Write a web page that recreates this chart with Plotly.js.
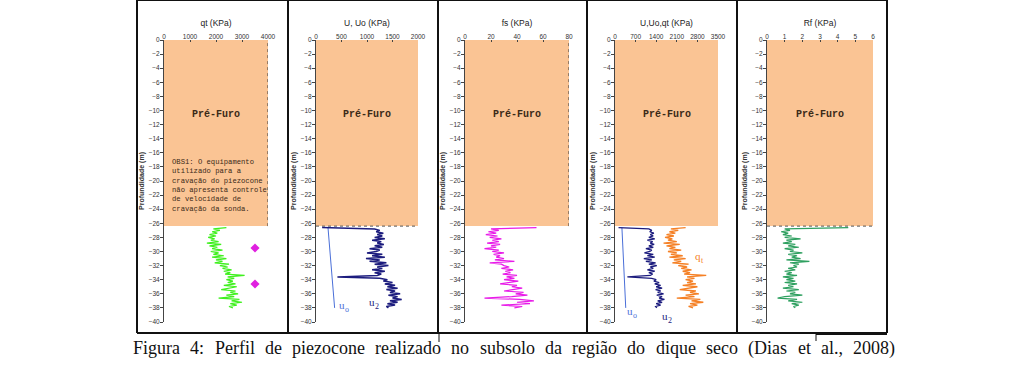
<!DOCTYPE html>
<html><head><meta charset="utf-8">
<script src="https://cdn.plot.ly/plotly-3.0.1.min.js"></script>
<style>html,body{margin:0;padding:0;background:#fff}#c{width:1024px;height:368px}</style>
</head><body><div id="c"></div>
<script>
// ---- data ----
const depth = [-26.6,-26.8,-27.0,-27.2,-27.4,-27.6,-27.8,-28.0,-28.2,-28.4,-28.6,-28.8,-29.0,-29.2,-29.4,-29.6,-29.8,-30.0,-30.2,-30.4,-30.6,-30.8,-31.0,-31.2,-31.4,-31.6,-31.8,-32.0,-32.2,-32.4,-32.6,-32.8,-33.0,-33.2,-33.4,-33.6,-33.8,-34.0,-34.2,-34.4,-34.6,-34.8,-35.0,-35.2,-35.4,-35.6,-35.8,-36.0,-36.2,-36.4,-36.6,-36.8,-37.0,-37.2,-37.4,-37.6,-37.8,-38.0];
const qt = [2400,1900,2150,1850,2050,1750,2000,1700,1950,1800,2100,1650,2200,1750,2050,1850,2250,1800,2100,1900,2300,1850,2400,2000,2250,1950,2500,2150,2450,2250,2600,2300,2550,2350,3100,2450,2700,2400,2650,2450,2750,2300,2800,2500,2200,2750,2550,2850,2400,2700,2100,2900,2600,3000,2550,2800,2500,2650];
const u2 = [120,1150,1250,1180,1320,1200,1300,1150,1350,1100,1280,1200,1330,1150,1300,1050,1250,1180,1000,1300,1100,1350,980,1250,1050,1380,1150,1420,1200,1300,1100,1350,1150,1280,1200,420,1250,1400,1320,1500,1350,1550,1400,1600,1380,1550,1450,1650,1420,1600,1500,1680,1450,1600,1400,1550,1380,1420];
const fs = [55,20,26,18,24,16,25,19,28,21,26,17,27,20,24,15,26,21,30,22,27,24,30,23,38,19,28,30,34,28,37,31,35,29,40,32,38,30,41,34,27,40,36,44,35,30,45,39,48,36,15,42,53,40,50,28,44,38];
const rf = [4.6,1.0,1.3,0.8,1.2,0.9,1.4,1.0,1.9,1.1,1.4,0.9,1.6,1.2,1.8,1.0,1.5,1.3,2.0,1.2,1.7,1.4,1.9,1.1,2.4,1.3,1.8,1.5,1.7,1.2,1.6,1.0,1.4,1.1,1.7,0.9,1.5,1.1,1.6,1.0,1.7,1.2,1.5,0.9,1.8,1.1,1.6,1.3,2.0,1.0,0.6,1.7,1.2,2.0,1.4,1.8,1.5,1.6];
const u0Depth = [-26.6,-38.0];
const u0 = [235,365];
const qtPtDepth = [-29.5,-34.6];
const qtPt = [3500,3500];
const preDepth = [0,-26.4];
const xTitles = ["qt (KPa)","U, Uo (KPa)","fs (KPa)","U,Uo,qt (KPa)","Rf (KPa)"];
const yTitle = "Profundidade (m)";
const xMax = [4000,2000,80,3500,6];
const xTicks = [[0,1000,2000,3000,4000],[0,500,1000,1500,2000],[0,20,40,60,80],[0,700,1400,2100,2800,3500],[0,1,2,3,4,5,6]];
const yTicks = [0,-2,-4,-6,-8,-10,-12,-14,-16,-18,-20,-22,-24,-26,-28,-30,-32,-34,-36,-38,-40];
const captionWords = ["Figura","4:","Perfil","de","piezocone","realizado","no","subsolo","da","região","do","dique","seco","(Dias","et","al.,","2008)"];

// ---- layout helpers (pixel -> paper) ----
const W=1024,H=368;
const px = v => v/W, py = v => 1 - v/H;
const plotL = [164,316,465,615,767], plotR = [268,418,569,718,873];
const yDom = [py(322), py(40)];
const sans = "Liberation Sans, Arial, sans-serif";
const serif='Liberation Serif, Times New Roman, serif';
const layout = {width:W,height:H,margin:{l:0,r:0,t:0,b:0},paper_bgcolor:'#fff',plot_bgcolor:'rgba(0,0,0,0)',showlegend:false,shapes:[],annotations:[]};
for (let i=0;i<5;i++){
  const s = i===0?'':String(i+1);
  layout['xaxis'+s] = {domain:[px(plotL[i]),px(plotR[i])],anchor:'y'+s,side:'top',range:[0,xMax[i]],tickvals:xTicks[i],
    ticks:'inside',ticklen:2,tickcolor:'#444',showgrid:false,zeroline:false,showline:false,ticklabelstandoff:-1,
    tickfont:{family:sans,size:6.5,color:'#333'},
    title:{text:xTitles[i],font:{family:sans,size:8.5,color:'#222'},standoff:4}};
  layout['yaxis'+s] = {domain:yDom,anchor:'x'+s,range:[-40,0],tickvals:yTicks,ticks:'outside',ticklen:3,tickcolor:'#444',
    showline:true,linecolor:'#444',linewidth:1,showgrid:false,zeroline:false,ticklabelstandoff:-1,
    tickfont:{family:sans,size:6.5,color:'#333'},
    title:{text:'<b>'+yTitle+'</b>',font:{family:sans,size:7,color:'#333'},standoff:3}};
  layout.shapes.push({type:'rect',xref:'x'+s,yref:'y'+s,x0:0,x1:xMax[i],y0:preDepth[1],y1:preDepth[0],fillcolor:'#FAC494',line:{width:0},layer:'below'});
  layout.annotations.push({xref:'x'+s,yref:'y'+s,x:xMax[i]/2,y:-10.5,text:'<b>Pré-Furo</b>',showarrow:false,
    font:{family:'Liberation Mono, Courier New, monospace',size:10,color:'#3a2a18'}});
}
// dotted edges of the pre-drill block
layout.shapes.push({type:'line',xref:'x',yref:'y',x0:4000,x1:4000,y0:-26.4,y1:0,line:{color:'#333',width:1,dash:'dot'}});
layout.shapes.push({type:'line',xref:'x3',yref:'y3',x0:80,x1:80,y0:-26.4,y1:0,line:{color:'#333',width:1,dash:'dot'}});
layout.shapes.push({type:'line',xref:'x2',yref:'y2',x0:0,x1:2000,y0:-26.4,y1:-26.4,line:{color:'#555',width:1,dash:'dot'}});
layout.shapes.push({type:'line',xref:'x5',yref:'y5',x0:0,x1:6,y0:-26.4,y1:-26.4,line:{color:'#555',width:1,dash:'dot'}});
// panel frames
[137,288,438,587,737,887].forEach(x=>layout.shapes.push({type:'line',xref:'paper',yref:'paper',x0:px(x),x1:px(x),y0:py(0),y1:py(333),line:{color:'#111',width:2}}));
layout.shapes.push({type:'line',xref:'paper',yref:'paper',x0:px(137),x1:px(887),y0:py(333),y1:py(333),line:{color:'#111',width:2}});
layout.shapes.push({type:'line',xref:'paper',yref:'paper',x0:px(137),x1:px(887),y0:py(0.5),y1:py(0.5),line:{color:'#111',width:1}});
layout.shapes.push({type:'line',xref:'paper',yref:'paper',x0:px(439),x1:px(439),y0:py(333),y1:py(342),line:{color:'#111',width:1}});
layout.shapes.push({type:'line',xref:'paper',yref:'paper',x0:px(816),x1:px(816),y0:py(333),y1:py(341),line:{color:'#111',width:1}});
layout.shapes.push({type:'line',xref:'paper',yref:'paper',x0:px(816),x1:px(887),y0:py(333.5),y1:py(333.5),line:{color:'#111',width:3}});
// OBS note
layout.annotations.push({xref:'paper',yref:'paper',x:px(170),y:py(156),xanchor:'left',yanchor:'top',align:'left',showarrow:false,
  text:'OBS1: O equipamento<br>utilizado para a<br>cravação do piezocone<br>não apresenta controle<br>de velocidade de<br>cravação da sonda.',
  font:{family:'Liberation Mono, Courier New, monospace',size:7.2,color:'#3a2a18'}});
// curve labels: main letter + subscript as two texts
[[337,305,'u','o','#4a6fd8'],[367,302,'u','2','#1c1c7e'],[625,311,'u','o','#4a6fd8'],[660,316,'u','2','#1c1c7e'],[693,256,'q','t','#f58025']]
 .forEach(a=>{
   layout.annotations.push({xref:'paper',yref:'paper',x:px(a[0]),y:py(a[1]),xanchor:'left',yanchor:'middle',text:a[2],showarrow:false,font:{family:serif,size:11,color:a[4]}});
   layout.annotations.push({xref:'paper',yref:'paper',x:px(a[0]+6),y:py(a[1]+4),xanchor:'left',yanchor:'middle',text:a[3],showarrow:false,font:{family:serif,size:8,color:a[4]}});
 });
// caption words, justified between left and right edges
const capSize=18, capL=131, capR=893;
const ctx=document.createElement('canvas').getContext('2d');
ctx.font=capSize+'px "Liberation Serif"';
const widths=captionWords.map(w=>ctx.measureText(w).width);
const gap=(capR-capL-widths.reduce((a,b)=>a+b,0))/(captionWords.length-1);
let cx=capL;
captionWords.forEach((w,i)=>{layout.annotations.push({xref:'paper',yref:'paper',x:px(cx),y:py(348),xanchor:'left',yanchor:'middle',
  text:w,showarrow:false,font:{family:serif,size:capSize,color:'#111'}}); cx+=widths[i]+gap;});

const line=(x,y,xa,ya,c,w)=>({x,y,xaxis:xa,yaxis:ya,type:'scatter',mode:'lines',line:{color:c,width:w},hoverinfo:'skip'});
const data=[
  line(qt,depth,'x','y','#3ff01e',1.2),
  {x:qtPt,y:qtPtDepth,xaxis:'x',yaxis:'y',type:'scatter',mode:'markers',marker:{symbol:'diamond',size:7,color:'#e020e0'}},
  line(u0,u0Depth,'x2','y2','#4a6fd8',1),
  line(u2,depth,'x2','y2','#1c1c7e',1.5),
  line(fs,depth,'x3','y3','#e81ce8',1.2),
  line(u0,u0Depth,'x4','y4','#4a6fd8',1),
  line(u2,depth,'x4','y4','#1c1c7e',1.3),
  line(qt,depth,'x4','y4','#f58025',1.3),
  line(rf,depth,'x5','y5','#2fa060',1.2)
];
Plotly.newPlot('c',data,layout,{staticPlot:true});
</script></body></html>
